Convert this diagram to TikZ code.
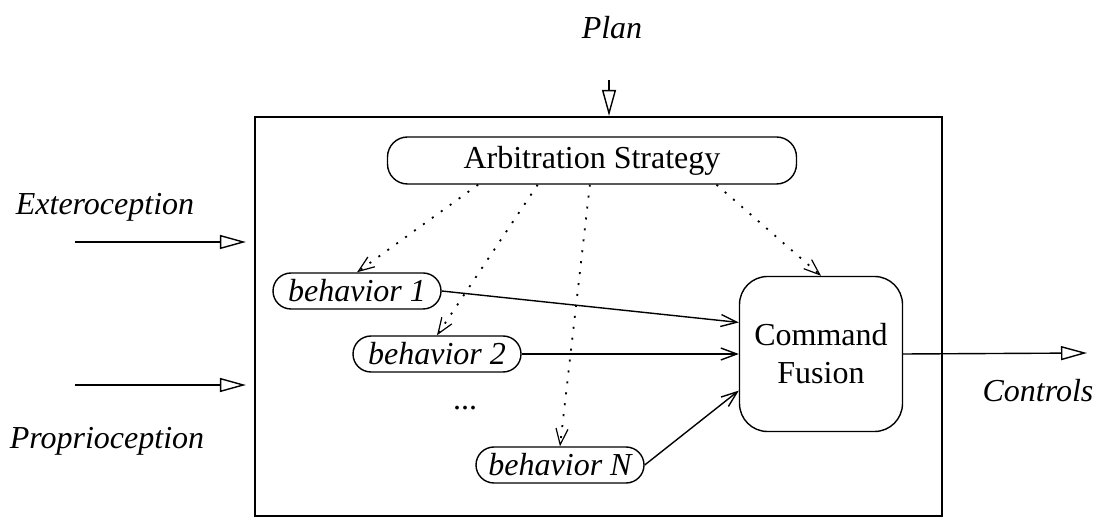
\documentclass[tikz,border=0pt]{standalone}
\usepackage{fontspec}
\setmainfont{Liberation Serif}
\usetikzlibrary{arrows.meta}

\tikzset{
  sysbox/.style={draw, line width=1.1pt, minimum width=343.5pt, minimum height=199.5pt, inner sep=0pt},
  stratbox/.style={draw, line width=0.7pt, rounded corners=10pt, minimum width=204.5pt, minimum height=23.5pt, inner sep=0pt},
  behbox/.style={draw, line width=0.7pt, rounded corners=9pt, minimum width=84pt, minimum height=18pt, inner sep=0pt, font=\fontsize{16}{19}\selectfont\itshape},
  fusebox/.style={draw, line width=0.7pt, rounded corners=14pt, minimum width=81.5pt, minimum height=77.5pt, inner sep=0pt, align=center},
  lbl/.style={font=\fontsize{16}{19}\selectfont\itshape},
  bigarr/.style={line width=0.7pt, -{Triangle[open, length=13pt, width=7pt]}},
  solarr/.style={line width=0.7pt, -{Straight Barb[length=8pt, width=6pt]}},
  dotarr/.style={line width=0.9pt, dash pattern=on 1pt off 4.5pt, -{Straight Barb[length=8pt, width=6pt, line width=0.6pt]}}
}

\begin{document}
\begin{tikzpicture}[x=0.5pt, y=-0.5pt, font=\fontsize{16}{19}\selectfont]
  \useasboundingbox (0,0) rectangle (1102,517);

  % outer box and the boxes inside
  \node[sysbox] (sys) at (598.5,316.5) {};
  \node[stratbox] (arb) at (592,160.5) {Arbitration Strategy};
  \node[behbox] (beh1) at (357,291) {behavior 1};
  \node[behbox] (beh2) at (437,354) {behavior 2};
  \node[behbox] (behN) at (560,465) {behavior N};
  \node[fusebox] (fusion) at (821,354) {Command\\Fusion};
  \node (dots) at (465,408) {...};

  % outside labels
  \node[lbl] (plan) at (612,28) {Plan};
  \node[lbl] (extero) at (105,207) {Exteroception};
  \node[lbl] (proprio) at (107,441) {Proprioception};
  \node[lbl] (controls) at (1038,391) {Controls};
  \coordinate (planin) at (609,80);
  \coordinate (exin) at (75,242);
  \coordinate (prin) at (75,385);
  \coordinate (ctrlout) at (1087,353);

  \draw[bigarr] (planin) -- (planin |- sys.north);
  \draw[bigarr, shorten >=4pt] (exin) -- (exin -| sys.west);
  \draw[bigarr, shorten >=4pt] (prin) -- (prin -| sys.west);
  \draw[bigarr] (fusion.east) -- (ctrlout);

  % arbitration
  \draw[dotarr] (arb.192.7) -- (beh1.north);
  \draw[dotarr] (arb.204.3) -- (beh2.north);
  \draw[dotarr] (arb.265) -- (behN.north);
  \draw[dotarr] (arb.349.8) -- (fusion.north);

  % behaviour outputs
  \draw[solarr] (beh1.east) -- (fusion.159);
  \draw[solarr] (beh2.east) -- (fusion.west);
  \draw[solarr] (behN.east) -- (fusion.204);
\end{tikzpicture}
\end{document}
